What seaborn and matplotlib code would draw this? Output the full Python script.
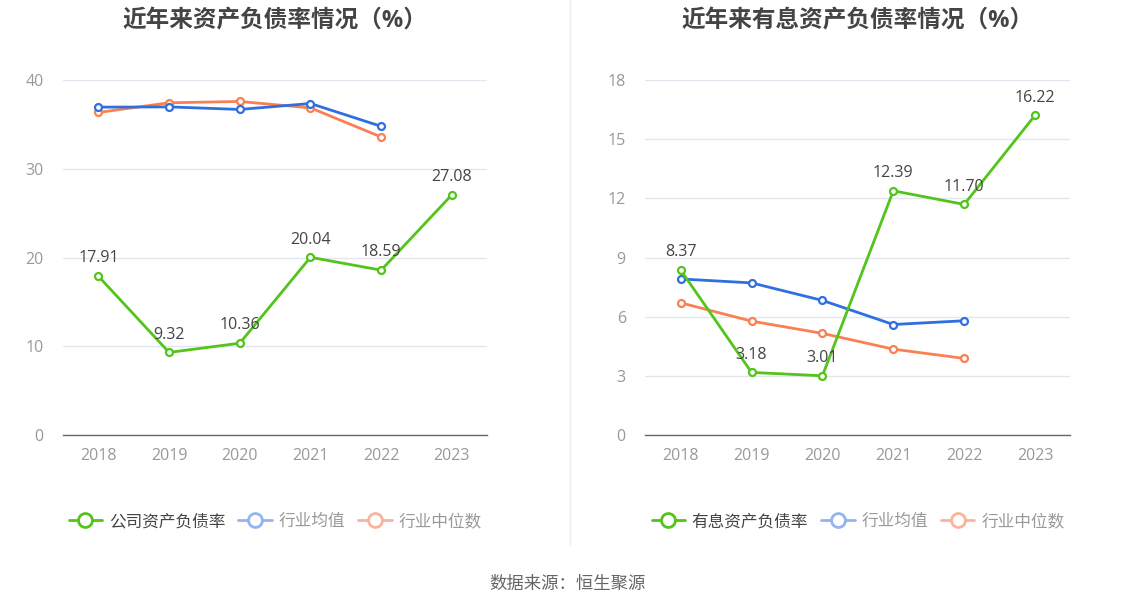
import matplotlib
matplotlib.use("Agg")
import matplotlib.pyplot as plt
import matplotlib.lines as mlines
import seaborn as sns
import pandas as pd

# Data
years = ["2018", "2019", "2020", "2021", "2022", "2023"]

company_debt = [17.91, 9.32, 10.36, 20.04, 18.59, 27.08]
industry_avg_debt = [36.96, 36.99, 36.70, 37.37, 34.80]
industry_median_debt = [36.36, 37.45, 37.60, 36.88, 33.60]

interest_debt = [8.37, 3.18, 3.01, 12.39, 11.70, 16.22]
industry_avg_interest = [7.92, 7.72, 6.83, 5.61, 5.80]
industry_median_interest = [6.71, 5.78, 5.16, 4.36, 3.89]

left_title = "近年来资产负债率情况（%）"
right_title = "近年来有息资产负债率情况（%）"
left_legend = ["公司资产负债率", "行业均值", "行业中位数"]
right_legend = ["有息资产负债率", "行业均值", "行业中位数"]
source_text = "数据来源：恒生聚源"

GREEN = "#52c41a"
BLUE = "#2f6fe0"
ORANGE = "#fa8051"

sns.set_theme(style="white")
plt.rcParams["font.family"] = ["Open Sans", "Noto Sans CJK SC", "DejaVu Sans"]

fig = plt.figure(figsize=(11.34, 6.12), dpi=100)
ax1 = fig.add_axes([0.0556, 0.289, 0.374, 0.580])
ax2 = fig.add_axes([0.569, 0.289, 0.375, 0.580])


def draw_panel(ax, main, avg, med, ylim, yticks, title, legend_labels):
    df_main = pd.DataFrame({"x": range(len(main)), "v": main})
    df_avg = pd.DataFrame({"x": range(len(avg)), "v": avg})
    df_med = pd.DataFrame({"x": range(len(med)), "v": med})

    style = dict(marker="o", markersize=5, markerfacecolor="white",
                 markeredgewidth=1.6, linewidth=2)
    sns.lineplot(data=df_med, x="x", y="v", ax=ax, color=ORANGE,
                 markeredgecolor=ORANGE, zorder=3, **style)
    sns.lineplot(data=df_avg, x="x", y="v", ax=ax, color=BLUE,
                 markeredgecolor=BLUE, zorder=4, **style)
    sns.lineplot(data=df_main, x="x", y="v", ax=ax, color=GREEN,
                 markeredgecolor=GREEN, zorder=5, **style)

    # value labels for the main series
    for i, v in enumerate(main):
        ax.annotate("{:.2f}".format(v), (i, v), xytext=(0, 7),
                    textcoords="offset points", ha="center", va="bottom",
                    fontsize=11.5, color="#444444", zorder=6)

    ax.set_xlim(-0.5, len(years) - 0.5)
    ax.set_ylim(*ylim)
    ax.set_yticks(yticks)
    ax.set_xticks(range(len(years)))
    ax.set_xticklabels(years)
    ax.set_xlabel("")
    ax.set_ylabel("")
    ax.grid(axis="y", color="#e3e6ee", linewidth=1)
    ax.set_axisbelow(True)
    for s in ["top", "right", "left"]:
        ax.spines[s].set_visible(False)
    ax.spines["bottom"].set_color("#666666")
    ax.spines["bottom"].set_linewidth(1)
    ax.tick_params(axis="x", colors="#999999", labelsize=11.5, length=4,
                   width=1, direction="out", pad=5)
    ax.tick_params(axis="x", color="#666666")
    ax.tick_params(axis="y", colors="#999999", labelsize=11.5, length=0, pad=14)
    ax.set_title(title, fontsize=17, fontweight="bold", color="#444444", pad=38)

    handles = [
        mlines.Line2D([], [], color=GREEN, marker="o", markersize=10,
                      markerfacecolor="white", markeredgewidth=2, linewidth=2),
        mlines.Line2D([], [], color="#94b4f0", marker="o", markersize=10,
                      markerfacecolor="white", markeredgewidth=2, linewidth=2),
        mlines.Line2D([], [], color="#fbb49a", marker="o", markersize=10,
                      markerfacecolor="white", markeredgewidth=2, linewidth=2),
    ]
    leg = ax.legend(handles, legend_labels, loc="center",
                    bbox_to_anchor=(0.5, -0.245), ncol=3, frameon=False,
                    fontsize=12, handlelength=2.0, handletextpad=0.4,
                    columnspacing=0.8)
    colors = ["#444444", "#999999", "#999999"]
    for t, c in zip(leg.get_texts(), colors):
        t.set_color(c)


draw_panel(ax1, company_debt, industry_avg_debt, industry_median_debt,
           (0, 40), [0, 10, 20, 30, 40], left_title, left_legend)
draw_panel(ax2, interest_debt, industry_avg_interest, industry_median_interest,
           (0, 18), [0, 3, 6, 9, 12, 15, 18], right_title, right_legend)

# vertical separator between panels
fig.add_artist(mlines.Line2D([0.5026, 0.5026], [1 - 545 / 612, 1.0],
                             color="#eeeeee", linewidth=1))

fig.text(0.5, 1 - 585 / 612, source_text, ha="center", va="center",
         fontsize=12.5, color="#666666")

fig.savefig("out.png", dpi=100)
